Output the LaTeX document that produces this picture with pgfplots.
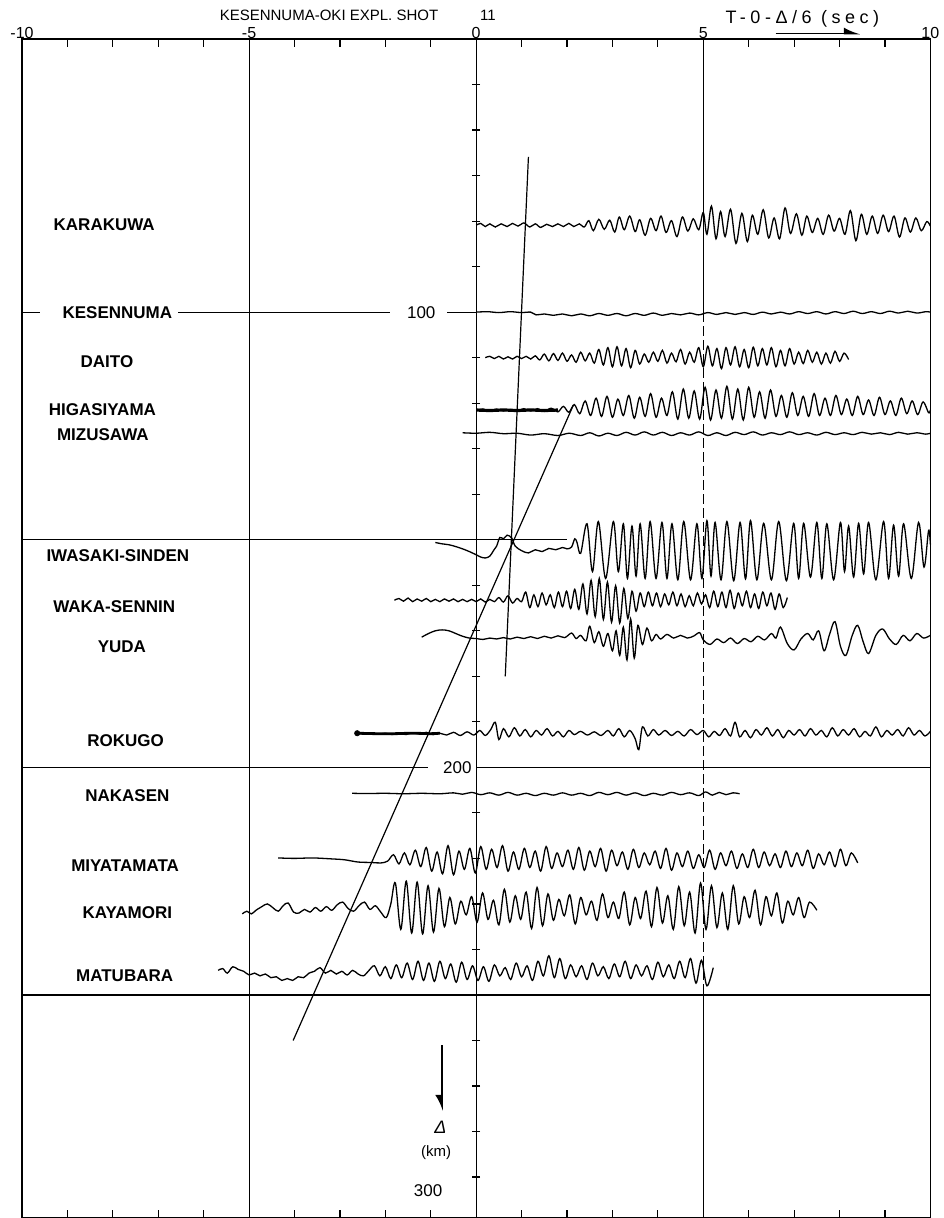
\documentclass[border=0pt]{standalone}
\usepackage{fontspec}
\setmainfont{Liberation Sans}
\usepackage{pgfplots}
\pgfplotsset{compat=1.18}
\usetikzlibrary{arrows.meta}
\pgfplotsset{trace/.style={black, line width=0.65pt, smooth, tension=0.55, no marks}}
\newcommand\trace[3][]{\addplot[trace,#1] table[header=false,row sep=\\,y expr=\thisrowno{1}+#2]{#3};}
\newcommand\stn[3]{\node[font=\bfseries\fontsize{8.5}{10}\selectfont] at (axis cs:#1,#2) {#3};}
\begin{document}
\begin{tikzpicture}
\useasboundingbox (-11pt,0) rectangle (460.5pt,608.75pt);
\begin{axis}[
 at={(0,0)}, anchor=south west,
 scale only axis, width=454pt, height=589.25pt,
 xmin=-10, xmax=10, ymin=40, ymax=299, y dir=reverse,
 clip=false,
 xtick={-10,-5,0,5,10}, xticklabels={-10,-5,0,5,10},
 minor xtick={-9,-8,-7,-6,-4,-3,-2,-1,1,2,3,4,6,7,8,9},
 xticklabel pos=upper, xtick pos=both,
 tick align=inside, major tick length=4pt, minor tick length=4pt,
 ytick=\empty,
 axis line style={line width=0.6pt},
 every tick/.style={black, line width=0.6pt},
 tick label style={font=\fontsize{8}{9}\selectfont},
 xticklabel style={yshift=-3.5pt},
]
% grid lines
\addplot[black, line width=0.6pt] coordinates {(-5,40) (-5,299)};
\addplot[black, line width=0.6pt] coordinates {(0,40) (0,299)};
\addplot[black, line width=0.6pt] coordinates {(5,40) (5,100)};
\addplot[black, line width=0.6pt, dash pattern=on 5pt off 2pt] coordinates {(5,100) (5,250)};
\addplot[black, line width=0.6pt] coordinates {(5,250) (5,299)};
\addplot[black, only marks, mark=-, mark size=2pt, mark options={line width=0.6pt}] coordinates {(0,50) (0,60) (0,70) (0,80) (0,90) (0,110) (0,120) (0,130) (0,140) (0,160) (0,170) (0,180) (0,190) (0,210) (0,220) (0,230) (0,240) (0,260) (0,270) (0,280) (0,290)};
% horizontal lines
\addplot[black, line width=0.6pt] coordinates {(-10,100) (-9.6,100)};
\addplot[black, line width=0.6pt] coordinates {(-6.56,100) (-1.89,100)};
\addplot[black, line width=0.6pt] coordinates {(-0.64,100) (0,100)};
\addplot[black, line width=0.6pt] coordinates {(-10,150) (2.0,150)};
\addplot[black, line width=0.6pt] coordinates {(-10,200) (-1.06,200)};
\addplot[black, line width=0.6pt] coordinates {(0,200) (10,200)};
\addplot[black, line width=0.6pt] coordinates {(-10,250) (10,250)};
% travel-time lines
\addplot[black, line width=0.6pt] coordinates {(1.15,65.9) (0.64,180)};
\addplot[black, line width=0.6pt] coordinates {(2.14,120.4) (-4.03,260)};
% KARAKUWA
\trace{80.9}{0 0\\ .1 -.4\\ .2 .3\\ .3 -.3\\ .42 .4\\ .55 -.3\\ .68 .3\\ .8 -.4\\ .92 .2\\ 1.05 -.5\\ 1.18 .4\\ 1.3 -.3\\ 1.42 .5\\ 1.55 -.2\\ 1.68 .3\\ 1.8 -.3\\ 1.92 .3\\ 2.04 -.4\\ 2.15 .3\\ 2.27 -.3\\ 2.38 .4\\ 2.48 -1\\ 2.58 1.2\\ 2.7 -1.3\\ 2.82 .9\\ 2.94 -1.1\\ 3.05 1.5\\ 3.15 -1.8\\ 3.26 1\\ 3.38 -2\\ 3.5 1.4\\ 3.6 -1.2\\ 3.72 2.2\\ 3.84 -1.5\\ 3.96 1.2\\ 4.07 -2\\ 4.18 1.6\\ 4.3 -1\\ 4.42 2.5\\ 4.54 -1.8\\ 4.66 1.3\\ 4.78 -1.4\\ 4.9 1\\ 5 -2.8\\ 5.08 2\\ 5.18 -4.2\\ 5.28 3\\ 5.38 -3\\ 5.48 2.5\\ 5.6 -3.5\\ 5.72 4\\ 5.85 -2.6\\ 5.97 3.6\\ 6.08 -2.2\\ 6.2 2\\ 6.32 -3.4\\ 6.44 2.8\\ 6.56 -1.6\\ 6.68 3\\ 6.8 -3.8\\ 6.92 1.8\\ 7.05 -2.5\\ 7.17 2.2\\ 7.28 -2\\ 7.4 1.6\\ 7.52 -1.5\\ 7.64 2\\ 7.76 -2.2\\ 7.88 1.3\\ 8 -1.5\\ 8.12 2\\ 8.24 -3.2\\ 8.36 3.4\\ 8.48 -2.4\\ 8.6 2\\ 8.72 -2\\ 8.84 1.8\\ 8.96 -2.2\\ 9.08 1.4\\ 9.2 -2\\ 9.32 2.6\\ 9.44 -1.6\\ 9.56 1.5\\ 9.68 -1.6\\ 9.8 1.2\\ 9.92 -.8\\ 10 .2\\}
% KESENNUMA
\trace{100}{0 0\\ .25 -.1\\ .5 .1\\ .75 -.1\\ 1 .1\\ 1.2 0\\ 1.32 .6\\ 1.5 .4\\ 1.7 .7\\ 1.9 .4\\ 2.1 .8\\ 2.3 .4\\ 2.5 .8\\ 2.7 .3\\ 2.9 .7\\ 3.1 .3\\ 3.3 .8\\ 3.5 .3\\ 3.7 .7\\ 3.9 .2\\ 4.1 .7\\ 4.3 .3\\ 4.5 .6\\ 4.7 .2\\ 4.9 .6\\ 5.1 .1\\ 5.3 .5\\ 5.5 .1\\ 5.7 .5\\ 5.9 .1\\ 6.1 .5\\ 6.3 0\\ 6.5 .4\\ 6.7 0\\ 6.9 .4\\ 7.1 -.1\\ 7.3 .3\\ 7.5 -.1\\ 7.7 .4\\ 7.9 -.1\\ 8.1 .3\\ 8.3 -.2\\ 8.5 .3\\ 8.7 -.1\\ 8.9 .3\\ 9.1 -.2\\ 9.3 .2\\ 9.5 -.2\\ 9.7 .2\\ 9.9 -.1\\ 10 0\\}
% DAITO
\trace{110}{.2 0\\ .3 -.3\\ .4 .2\\ .5 -.3\\ .6 .3\\ .7 -.2\\ .8 .3\\ .9 -.3\\ 1 .2\\ 1.1 -.3\\ 1.2 .3\\ 1.3 -.4\\ 1.4 .5\\ 1.5 -.8\\ 1.6 .7\\ 1.7 -.9\\ 1.8 .6\\ 1.9 -1\\ 2 .8\\ 2.1 -.6\\ 2.2 1\\ 2.3 -1.2\\ 2.4 .7\\ 2.5 -1\\ 2.6 1.2\\ 2.7 -1.8\\ 2.8 1.6\\ 2.9 -2.2\\ 3 2\\ 3.1 -2.4\\ 3.2 1.8\\ 3.3 -2\\ 3.4 2.2\\ 3.5 -1.6\\ 3.6 1.4\\ 3.7 -.8\\ 3.8 1\\ 3.9 -1.2\\ 4 .8\\ 4.1 -1.6\\ 4.2 1.2\\ 4.3 -1\\ 4.4 .9\\ 4.5 -1.8\\ 4.6 1.4\\ 4.7 -1.2\\ 4.8 1\\ 4.9 -2.2\\ 5 2\\ 5.1 -2.5\\ 5.2 1.8\\ 5.3 -2\\ 5.4 2.4\\ 5.5 -2.2\\ 5.6 1.6\\ 5.7 -2.4\\ 5.8 2\\ 5.9 -1.8\\ 6 2.2\\ 6.1 -2.3\\ 6.2 1.8\\ 6.3 -2\\ 6.4 1.6\\ 6.5 -2.2\\ 6.6 2\\ 6.7 -1.6\\ 6.8 1.8\\ 6.9 -2\\ 7 1.4\\ 7.1 -1.2\\ 7.2 1.3\\ 7.3 -1.6\\ 7.4 1\\ 7.5 -1.2\\ 7.6 1.4\\ 7.7 -1\\ 7.8 1.2\\ 7.9 -1.4\\ 8 .8\\ 8.1 -1\\ 8.2 .4\\}
% HIGASIYAMA
\trace{121.5}{0 0\\ .15 -.2\\ .3 .2\\ .45 -.2\\ .6 .2\\ .75 -.1\\ .9 .2\\ 1.05 -.3\\ 1.2 .2\\ 1.35 -.3\\ 1.5 .3\\ 1.65 -.4\\ 1.8 .4\\ 1.92 -.8\\ 2.04 .5\\ 2.16 -1.2\\ 2.28 .8\\ 2.4 -2\\ 2.52 1.2\\ 2.64 -2.6\\ 2.76 1.4\\ 2.88 -3\\ 3 1.6\\ 3.12 -2.4\\ 3.24 1.2\\ 3.36 -3.2\\ 3.48 1.8\\ 3.6 -2.8\\ 3.72 1.4\\ 3.84 -3.6\\ 3.96 1.6\\ 4.08 -2.6\\ 4.2 1.2\\ 4.32 -4\\ 4.44 2\\ 4.56 -4.6\\ 4.68 1.8\\ 4.8 -4.2\\ 4.92 2\\ 5.04 -5\\ 5.16 2.2\\ 5.28 -4.4\\ 5.4 1.8\\ 5.52 -5.2\\ 5.64 2\\ 5.76 -4.6\\ 5.88 2.2\\ 6 -5\\ 6.12 1.6\\ 6.24 -4\\ 6.36 1.8\\ 6.48 -4.4\\ 6.6 1.4\\ 6.72 -3.2\\ 6.84 1.6\\ 6.96 -3.8\\ 7.08 1.2\\ 7.2 -3\\ 7.32 1.4\\ 7.44 -3.6\\ 7.56 1.2\\ 7.68 -2.6\\ 7.8 1.2\\ 7.92 -3.2\\ 8.04 1\\ 8.16 -2.4\\ 8.28 1.2\\ 8.4 -3\\ 8.52 1\\ 8.64 -2.2\\ 8.76 1.2\\ 8.88 -2.8\\ 9 1\\ 9.12 -2\\ 9.24 1.2\\ 9.36 -2.6\\ 9.48 .8\\ 9.6 -2\\ 9.72 1\\ 9.84 -1.8\\ 9.96 .6\\ 10 0\\}
\trace[line width=1.6pt]{121.5}{0 0\\ .3 .1\\ .6 0\\ .9 .1\\ 1.2 0\\ 1.5 .1\\ 1.8 0\\}
% MIZUSAWA
\trace{126.5}{-.3 0\\ 0 .1\\ .3 -.1\\ .6 .2\\ .9 .1\\ 1.2 .5\\ 1.5 .2\\ 1.8 .6\\ 2.05 .1\\ 2.3 .6\\ 2.5 0\\ 2.7 .7\\ 2.9 .1\\ 3.1 .6\\ 3.3 -.1\\ 3.5 .5\\ 3.7 -.2\\ 3.9 .5\\ 4.1 -.1\\ 4.3 .6\\ 4.5 0\\ 4.7 .5\\ 4.9 -.2\\ 5.1 .6\\ 5.3 0\\ 5.5 .6\\ 5.7 -.1\\ 5.9 .4\\ 6.1 -.2\\ 6.3 .5\\ 6.5 0\\ 6.7 .4\\ 6.9 -.2\\ 7.1 .4\\ 7.3 0\\ 7.5 .5\\ 7.7 -.1\\ 7.9 .4\\ 8.1 0\\ 8.3 .4\\ 8.5 -.1\\ 8.7 .3\\ 8.9 0\\ 9.1 .4\\ 9.3 -.1\\ 9.5 .3\\ 9.7 0\\ 9.9 .3\\ 10 .1\\}
% IWASAKI-SINDEN
\trace{152}{-.9 -1.4\\ -.75 -1.1\\ -.6 -.9\\ -.45 -.5\\ -.3 0\\ -.15 .6\\ 0 1.3\\ .1 1.8\\ .2 2\\ .3 1.6\\ .38 .4\\ .45 -.6\\ .52 -2.5\\ .6 -2.2\\ .68 -3\\ .78 -2.4\\ .86 -.6\\ 1 .4\\ 1.15 .9\\ 1.3 .2\\ 1.45 .6\\ 1.6 -.1\\ 1.75 .2\\ 1.9 -.3\\ 2 0\\ 2.1 -.4\\ 2.17 -2.2\\ 2.22 -1.4\\ 2.3 1\\ 2.44 -5.5\\ 2.56 5\\ 2.69 -6\\ 2.85 6.5\\ 3.02 -6\\ 3.13 5\\ 3.24 -5.5\\ 3.33 6.5\\ 3.43 -5\\ 3.52 6\\ 3.61 -5.5\\ 3.72 6.5\\ 3.83 -6\\ 3.96 6.5\\ 4.09 -5.8\\ 4.2 6.5\\ 4.31 -5.5\\ 4.44 6.8\\ 4.57 -6\\ 4.72 6.8\\ 4.86 -5.5\\ 4.97 6.5\\ 5.08 -6.2\\ 5.17 6\\ 5.26 -5.8\\ 5.39 6.8\\ 5.52 -6\\ 5.67 7\\ 5.81 -5.8\\ 5.93 6.6\\ 6.04 -6.2\\ 6.18 6.8\\ 6.33 -5.6\\ 6.5 6.8\\ 6.66 -6\\ 6.83 7\\ 6.99 -5.6\\ 7.1 6.5\\ 7.21 -5.6\\ 7.36 6.2\\ 7.5 -5.8\\ 7.61 6.5\\ 7.72 -5.5\\ 7.87 6.8\\ 8.02 -5.8\\ 8.11 5\\ 8.2 -5\\ 8.31 6.2\\ 8.42 -5.6\\ 8.53 5.5\\ 8.64 -5.8\\ 8.8 6.8\\ 8.97 -6\\ 9.08 6.5\\ 9.19 -5.2\\ 9.3 6\\ 9.41 -5.5\\ 9.58 6.5\\ 9.74 -5.8\\ 9.86 4\\ 9.96 -4\\ 10 -1\\}
% WAKA-SENNIN
\trace{163.3}{-1.8 0\\ -1.7 -.4\\ -1.6 .2\\ -1.5 -.5\\ -1.4 .3\\ -1.3 -.3\\ -1.2 .2\\ -1.1 -.4\\ -1 .3\\ -.9 -.2\\ -.8 .3\\ -.7 -.3\\ -.6 .2\\ -.5 -.3\\ -.4 .3\\ -.3 -.2\\ -.2 .3\\ -.1 -.2\\ 0 .3\\ .1 -.3\\ .2 .4\\ .3 -.2\\ .4 .3\\ .5 -.6\\ .6 .4\\ .7 -1\\ .8 .6\\ .9 -.4\\ 1 .3\\ 1.09 -1.8\\ 1.18 1.6\\ 1.27 -1.2\\ 1.36 1.4\\ 1.45 -1.6\\ 1.54 1\\ 1.63 -1.2\\ 1.72 1.6\\ 1.81 -1.8\\ 1.9 1.4\\ 1.99 -2\\ 2.08 1.8\\ 2.17 -2.4\\ 2.26 2\\ 2.35 -3.6\\ 2.44 3\\ 2.53 -4.4\\ 2.62 3.6\\ 2.71 -4.8\\ 2.8 4.2\\ 2.89 -4\\ 2.98 4.8\\ 3.07 -3.2\\ 3.16 5\\ 3.25 -2.6\\ 3.34 4\\ 3.43 -2\\ 3.52 2.4\\ 3.61 -1.6\\ 3.7 1.4\\ 3.79 -1.8\\ 3.88 1.2\\ 3.97 -1.6\\ 4.06 1.4\\ 4.15 -1.4\\ 4.24 1\\ 4.33 -1.8\\ 4.42 1.2\\ 4.51 -1.4\\ 4.6 1.4\\ 4.69 -1\\ 4.78 1.2\\ 4.87 -1.6\\ 4.96 .8\\ 5.05 -1.2\\ 5.14 1.6\\ 5.23 -2\\ 5.32 1.4\\ 5.41 -1.8\\ 5.5 1.6\\ 5.59 -2.2\\ 5.68 1.8\\ 5.77 -1.6\\ 5.86 1.2\\ 5.95 -2\\ 6.04 1.6\\ 6.13 -1.4\\ 6.22 1.8\\ 6.31 -1.8\\ 6.4 1.2\\ 6.49 -1.6\\ 6.58 2\\ 6.67 -1.4\\ 6.76 1.6\\ 6.85 -.6\\}
% YUDA
\trace{171.4}{-1.2 0\\ -1.05 -.8\\ -.9 -1.4\\ -.75 -1.6\\ -.6 -1.4\\ -.45 -.8\\ -.3 -.2\\ -.15 .2\\ 0 .3\\ .15 .5\\ .3 .2\\ .45 .4\\ .6 .1\\ .75 .4\\ .9 0\\ 1.05 .3\\ 1.2 -.1\\ 1.35 .3\\ 1.5 -.2\\ 1.65 .2\\ 1.8 -.3\\ 1.95 .1\\ 2.1 -.9\\ 2.2 .3\\ 2.3 -.4\\ 2.42 .8\\ 2.5 -2.4\\ 2.6 1.2\\ 2.7 -1.2\\ 2.8 2\\ 2.9 -.8\\ 3 3\\ 3.08 -1.4\\ 3.16 4\\ 3.24 -2.2\\ 3.32 5\\ 3.4 -4\\ 3.48 4.6\\ 3.56 -2.6\\ 3.66 1.6\\ 3.76 -2\\ 3.86 .8\\ 3.96 -.6\\ 4.06 .4\\ 4.2 -.6\\ 4.35 .2\\ 4.5 -.4\\ 4.65 .2\\ 4.8 -.3\\ 4.92 -1\\ 5 .6\\ 5.15 1.6\\ 5.3 .4\\ 5.45 1.2\\ 5.6 .2\\ 5.75 1.4\\ 5.9 .3\\ 6.05 1\\ 6.2 -.2\\ 6.35 .6\\ 6.5 -.8\\ 6.6 .2\\ 6.7 -2.2\\ 6.85 1.4\\ 7 2.8\\ 7.15 .4\\ 7.3 -.8\\ 7.42 .6\\ 7.54 -1.4\\ 7.66 3\\ 7.78 -.6\\ 7.9 -3.4\\ 8.02 2\\ 8.14 4\\ 8.28 -.4\\ 8.4 -2.6\\ 8.52 1\\ 8.64 3.6\\ 8.8 -.4\\ 8.95 -1.8\\ 9.1 .4\\ 9.25 1.6\\ 9.4 -.4\\ 9.55 .8\\ 9.7 -.8\\ 9.85 .2\\ 10 -.4\\}
% ROKUGO
\trace{192.5}{-2.62 0\\ -2.45 .2\\ -2.3 -.1\\ -2.15 .2\\ -2 0\\ -1.85 .3\\ -1.7 0\\ -1.55 .3\\ -1.4 -.1\\ -1.25 .2\\ -1.1 -.2\\ -.95 .3\\ -.8 0\\ -.65 .4\\ -.5 -.2\\ -.35 .5\\ -.2 -.3\\ -.05 .4\\ .08 -.6\\ .2 .5\\ .32 -.8\\ .42 -2.4\\ .5 1.4\\ .6 -1\\ .72 .8\\ .84 -1.2\\ .96 .6\\ 1.08 -.8\\ 1.2 .8\\ 1.32 -.6\\ 1.44 .4\\ 1.56 -1\\ 1.68 .6\\ 1.8 -.4\\ 1.92 .8\\ 2.04 -.6\\ 2.16 .3\\ 2.3 -.4\\ 2.45 .4\\ 2.6 -.3\\ 2.75 .5\\ 2.9 -.6\\ 3.02 .6\\ 3.14 -1\\ 3.26 .8\\ 3.38 -.6\\ 3.5 1.2\\ 3.58 3.6\\ 3.66 -1.4\\ 3.78 .6\\ 3.9 -.8\\ 4.02 .4\\ 4.16 -.6\\ 4.3 .5\\ 4.44 -.4\\ 4.58 .6\\ 4.72 -.8\\ 4.86 .3\\ 5 -.6\\ 5.12 .8\\ 5.24 -.4\\ 5.36 .5\\ 5.48 -1\\ 5.6 .6\\ 5.7 -2.4\\ 5.8 .8\\ 5.92 -.6\\ 6.04 1\\ 6.16 -.8\\ 6.28 .4\\ 6.4 -1.2\\ 6.52 .6\\ 6.64 -.8\\ 6.76 1\\ 6.88 -.6\\ 7 .4\\ 7.12 -.8\\ 7.24 .6\\ 7.36 -1\\ 7.48 .4\\ 7.6 -.6\\ 7.72 .8\\ 7.84 -1.2\\ 7.96 .6\\ 8.08 -.8\\ 8.2 .4\\ 8.32 -1\\ 8.44 .8\\ 8.56 -.4\\ 8.68 .6\\ 8.8 -1.4\\ 8.92 .8\\ 9.04 -.6\\ 9.16 .4\\ 9.28 -.8\\ 9.4 .6\\ 9.52 -1.2\\ 9.64 .4\\ 9.76 -.6\\ 9.88 .6\\ 10 -.4\\}
\trace[line width=1.4pt]{192.5}{-2.62 0\\ -2.2 .1\\ -1.8 .1\\ -1.4 0\\ -1.0 .1\\ -0.8 0\\}
\addplot[black, only marks, mark=*, mark size=1.3pt] coordinates {(-2.62,192.5)};
% NAKASEN
\trace{205.7}{-2.73 0\\ -2.4 .05\\ -2 0\\ -1.6 .1\\ -1.2 0\\ -.8 .1\\ -.5 -.1\\ -.3 .2\\ -.1 -.2\\ .1 .3\\ .3 -.1\\ .5 .4\\ .7 -.2\\ .9 .4\\ 1.1 0\\ 1.3 .5\\ 1.5 0\\ 1.7 .4\\ 1.9 -.1\\ 2.1 .4\\ 2.3 0\\ 2.5 .5\\ 2.7 -.2\\ 2.9 .3\\ 3.1 -.2\\ 3.3 .4\\ 3.5 -.1\\ 3.7 .5\\ 3.9 0\\ 4.1 .4\\ 4.3 -.2\\ 4.5 .3\\ 4.7 -.1\\ 4.9 .5\\ 5.05 -.3\\ 5.2 .4\\ 5.35 -.2\\ 5.5 .3\\ 5.65 -.1\\ 5.8 .1\\}
% MIYATAMATA
\trace{220.4}{-4.36 -.5\\ -4 -.4\\ -3.6 -.5\\ -3.2 -.3\\ -2.9 -.1\\ -2.6 .4\\ -2.3 .5\\ -2.1 .6\\ -1.95 .2\\ -1.82 -1.2\\ -1.7 .8\\ -1.58 -1.6\\ -1.46 1\\ -1.34 -2.2\\ -1.22 1.4\\ -1.1 -2.8\\ -.98 2.4\\ -.86 -1.8\\ -.74 3\\ -.62 -3.2\\ -.5 3.2\\ -.38 -2\\ -.26 2\\ -.14 -2.6\\ -.02 2.8\\ .1 -3\\ .22 2\\ .34 -2.4\\ .46 1.6\\ .58 -3.2\\ .7 2.4\\ .82 -1.8\\ .94 2\\ 1.06 -2.6\\ 1.18 1.6\\ 1.3 -2\\ 1.42 2.4\\ 1.54 -3\\ 1.66 1.8\\ 1.78 -1.6\\ 1.9 1.4\\ 2.02 -2.2\\ 2.14 2\\ 2.26 -2.8\\ 2.38 2.2\\ 2.5 -2\\ 2.62 1.4\\ 2.74 -2.6\\ 2.86 2.4\\ 2.98 -2.2\\ 3.1 1.2\\ 3.22 -1.8\\ 3.34 2\\ 3.46 -2.4\\ 3.58 1.6\\ 3.7 -1.6\\ 3.82 1\\ 3.94 -2\\ 4.06 1.8\\ 4.18 -2.6\\ 4.3 2.2\\ 4.42 -1.6\\ 4.54 1.4\\ 4.66 -2\\ 4.78 1.8\\ 4.9 -1.2\\ 5.02 1.6\\ 5.14 -2.2\\ 5.26 2\\ 5.38 -1.6\\ 5.5 1.2\\ 5.62 -2\\ 5.74 1.8\\ 5.86 -1.4\\ 5.98 1.6\\ 6.1 -2.4\\ 6.22 1.6\\ 6.34 -1.8\\ 6.46 1.2\\ 6.58 -1.4\\ 6.7 1.6\\ 6.82 -2\\ 6.94 1.4\\ 7.06 -1.6\\ 7.18 1.2\\ 7.3 -2.2\\ 7.42 1.8\\ 7.54 -1.4\\ 7.66 1\\ 7.78 -1.8\\ 7.9 1.4\\ 8.02 -2.4\\ 8.14 1.2\\ 8.26 -1.6\\ 8.4 .6\\}
% KAYAMORI
\trace{231}{-5.15 1.2\\ -5.05 .6\\ -4.95 1.2\\ -4.85 .4\\ -4.72 -.4\\ -4.6 -1\\ -4.48 -.2\\ -4.36 .6\\ -4.25 -.6\\ -4.14 -1.2\\ -4.02 .8\\ -3.9 1\\ -3.78 .2\\ -3.66 .8\\ -3.54 -.2\\ -3.42 .6\\ -3.3 -.4\\ -3.18 .4\\ -3.06 -.8\\ -2.94 -1.4\\ -2.82 0\\ -2.7 .6\\ -2.58 -.6\\ -2.46 -1.4\\ -2.34 .2\\ -2.22 -.6\\ -2.1 .8\\ -1.98 2\\ -1.88 -1\\ -1.78 -5.6\\ -1.66 4.6\\ -1.54 -6\\ -1.42 5.4\\ -1.3 -5.8\\ -1.18 5.6\\ -1.06 -5\\ -.94 5.2\\ -.82 -4.4\\ -.7 4\\ -.58 -2.4\\ -.46 3.4\\ -.34 -1.6\\ -.22 1.4\\ -.1 -2.6\\ .02 3\\ .14 -3.4\\ .26 2.4\\ .38 -1.8\\ .5 3.6\\ .62 -4.2\\ .74 3\\ .86 -2.8\\ .98 2.4\\ 1.1 -3.6\\ 1.22 4.4\\ 1.34 -4.6\\ 1.46 3.8\\ 1.58 -3.2\\ 1.7 2.6\\ 1.82 -2\\ 1.94 1.6\\ 2.06 -3\\ 2.18 3.4\\ 2.3 -2.4\\ 2.42 1.4\\ 2.54 -1.6\\ 2.66 2.6\\ 2.78 -3.2\\ 2.9 2\\ 3.02 -1.4\\ 3.14 2.2\\ 3.26 -3.6\\ 3.38 3.6\\ 3.5 -2.4\\ 3.62 2.2\\ 3.74 -3.8\\ 3.86 4\\ 3.98 -4.6\\ 4.1 3.2\\ 4.22 -2.8\\ 4.34 4.6\\ 4.46 -4.8\\ 4.58 3.8\\ 4.7 -3.6\\ 4.82 5.4\\ 4.94 -5.6\\ 5.06 4.6\\ 5.18 -5\\ 5.3 4.2\\ 5.42 -3.4\\ 5.54 4.6\\ 5.66 -5\\ 5.78 3.4\\ 5.9 -2.6\\ 6.02 2\\ 6.14 -4\\ 6.26 3.6\\ 6.38 -2.6\\ 6.5 1.6\\ 6.62 -3.4\\ 6.74 3.2\\ 6.86 -1.6\\ 6.98 1.4\\ 7.1 -2.4\\ 7.22 2\\ 7.34 -1.4\\ 7.5 .4\\}
% MATUBARA
\trace{245}{-5.68 -.4\\ -5.58 -.8\\ -5.48 .2\\ -5.36 -1.2\\ -5.24 -.6\\ -5.12 -.2\\ -5 .6\\ -4.88 .2\\ -4.76 .8\\ -4.64 .4\\ -4.52 1.2\\ -4.4 1\\ -4.28 1.8\\ -4.16 1.4\\ -4.04 1.8\\ -3.92 1\\ -3.8 1.2\\ -3.68 .2\\ -3.56 -.2\\ -3.44 -1\\ -3.32 .2\\ -3.2 -.4\\ -3.08 .4\\ -2.96 -.2\\ -2.84 .6\\ -2.72 -.4\\ -2.6 .4\\ -2.48 .8\\ -2.36 -.4\\ -2.24 -1.4\\ -2.12 .8\\ -2 -1.2\\ -1.88 1.4\\ -1.76 -1.6\\ -1.64 1.2\\ -1.52 -2\\ -1.4 1.6\\ -1.28 -2.4\\ -1.16 1.8\\ -1.04 -2\\ -.92 2\\ -.8 -2.4\\ -.68 1.4\\ -.56 -1.8\\ -.44 2.2\\ -.32 -2.2\\ -.2 1.6\\ -.08 -1.4\\ .04 1.8\\ .16 -1.2\\ .28 2\\ .4 -1.6\\ .52 .8\\ .64 -1\\ .76 1.6\\ .88 -2\\ 1 1\\ 1.12 -1.4\\ 1.24 1.8\\ 1.36 -2.4\\ 1.48 .8\\ 1.6 -3.6\\ 1.72 1.2\\ 1.84 -3\\ 1.96 1.4\\ 2.08 -1.6\\ 2.2 1\\ 2.32 -1.4\\ 2.44 1.6\\ 2.56 -2\\ 2.68 .8\\ 2.8 -1.2\\ 2.92 1.4\\ 3.04 -1.8\\ 3.16 1\\ 3.28 -2.4\\ 3.4 1.4\\ 3.52 -1.6\\ 3.64 .8\\ 3.76 -1.4\\ 3.88 1.6\\ 4 -2.2\\ 4.12 1\\ 4.24 -1.6\\ 4.36 1.4\\ 4.48 -2.4\\ 4.6 1.2\\ 4.72 -3\\ 4.84 2.4\\ 4.96 -2.6\\ 5.08 3\\ 5.22 -1\\}
% station names
\stn{-8.19}{80.9}{KARAKUWA}
\stn{-7.90}{100}{KESENNUMA}
\stn{-8.13}{110.8}{DAITO}
\stn{-8.23}{121.5}{HIGASIYAMA}
\stn{-8.22}{127}{MIZUSAWA}
\stn{-7.89}{153.4}{IWASAKI-SINDEN}
\stn{-7.97}{164.8}{WAKA-SENNIN}
\stn{-7.80}{173.6}{YUDA}
\stn{-7.72}{194.1}{ROKUGO}
\stn{-7.68}{206.2}{NAKASEN}
\stn{-7.73}{221.5}{MIYATAMATA}
\stn{-7.68}{231.9}{KAYAMORI}
\stn{-7.74}{245.7}{MATUBARA}
% distance labels
\node[font=\fontsize{8.5}{10}\selectfont] at (axis cs:-1.21,100) {100};
\node[font=\fontsize{8.5}{10}\selectfont, anchor=east, inner sep=1pt] at (axis cs:-0.05,200) {200};
\node[font=\fontsize{8.5}{10}\selectfont] at (axis cs:-1.06,293) {300};
\node[font=\itshape\fontsize{9}{10}\selectfont] at (axis cs:-0.79,279.1) {Δ};
\node[font=\fontsize{7.5}{9}\selectfont] at (axis cs:-0.88,284.6) {(km)};
\draw[line width=0.7pt, -{Latex[right,length=7pt,width=7pt]}] (axis cs:-0.75,261) -- (axis cs:-0.75,275.5);
% title
\node[font=\fontsize{7.5}{9}\selectfont, anchor=base east] at (axis cs:-0.68,35.9) {KESENNUMA-OKI EXPL. SHOT};
\node[font=\fontsize{7.5}{9}\selectfont, anchor=base] at (axis cs:0.26,35.9) {11};
\node[font=\fontsize{9}{10}\selectfont\addfontfeature{LetterSpace=25}] at (axis cs:7.18,35.5) {T-0-Δ/6 (sec)};
\draw[line width=0.7pt, -{Latex[left,length=7pt,width=6pt]}] (axis cs:6.59,38.8) -- (axis cs:8.46,38.8);
\end{axis}
\end{tikzpicture}
\end{document}
